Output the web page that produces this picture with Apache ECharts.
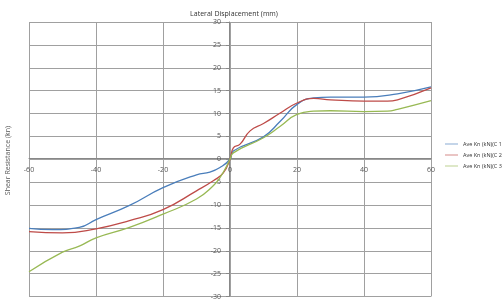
<!DOCTYPE html>
<html>
<head>
<meta charset="utf-8">
<script src="https://cdn.jsdelivr.net/npm/echarts@6/dist/echarts.min.js"></script>
<style>
html, body { margin: 0; padding: 0; background: #fff; }
#chart { width: 504px; height: 300px; }
</style>
</head>
<body>
<div id="chart"></div>
<script>
// 系列名称
const seriesNames = ['Ave Kn (kN)(C 1', 'Ave Kn (kN)(C 2', 'Ave Kn (kN)(C 3'];
const lineColors = ['#4a7ebb', '#be4b48', '#98b954'];

// 位移 (mm) 与剪切抗力 (kn)
const c1X = [-60, -53, -45, -40, -30, -20, -10, -6, -3, 0, 1, 10, 15, 20, 25, 30, 40, 50, 60];
const c1Y = [-15.1, -15.4, -14.9, -13.2, -10.1, -6.2, -3.4, -2.8, -1.8, 0, 1.8, 4.9, 8.3, 12.0, 13.4, 13.6, 13.6, 14.3, 15.8];

const c2X = [-60, -50, -40, -30, -20, -10, -5, -2, 0, 1, 3, 6, 10, 15, 20, 25, 30, 40, 47, 50, 60];
const c2Y = [-15.8, -16.1, -15.2, -13.4, -11.0, -6.9, -4.7, -3.0, 0, 2.5, 3.3, 6.2, 7.8, 10.1, 12.3, 13.3, 13.0, 12.7, 12.7, 13.0, 15.6];

const c3X = [-60, -50, -45, -40, -30, -20, -10, -5, -3, -1, 0, 1, 10, 15, 20, 25, 30, 40, 47, 50, 60];
const c3Y = [-24.6, -20.3, -19.0, -17.2, -14.9, -12.0, -8.7, -5.8, -4.0, -1.5, 0, 1.4, 4.7, 7.2, 9.8, 10.5, 10.6, 10.4, 10.5, 10.9, 12.8];

function pairs(xs, ys) {
    return xs.map(function (x, i) { return [x, ys[i]]; });
}

const allData = [pairs(c1X, c1Y), pairs(c2X, c2Y), pairs(c3X, c3Y)];

let myChart = echarts.init(document.getElementById('chart'));
const labelStyle = { color: '#555', fontSize: 7, fontFamily: 'Open Sans, sans-serif' };

// 画布: 左29 右431 上22 下298 → 零点 (229,160)
let option = {
    animation: false,
    title: {
        text: 'Lateral Displacement (mm)',
        left: 229,
        textAlign: 'center',
        top: 5,
        textStyle: { fontSize: 7, fontWeight: 'normal', color: '#333', fontFamily: 'Open Sans, sans-serif' }
    },
    graphic: [{
        type: 'text',
        left: 4,
        top: 126,
        rotation: Math.PI / 2,
        style: { text: 'Shear Resistance (kn)', fontSize: 7, fill: '#555', fontFamily: 'Open Sans, sans-serif' }
    }],
    legend: {
        orient: 'vertical',
        left: 440,
        top: 136,
        itemWidth: 13,
        itemHeight: 6,
        itemGap: 5,
        icon: 'path://M0,0 L20,0 L20,1 L0,1 Z',
        textStyle: { fontSize: 5.5, color: '#333', fontFamily: 'Open Sans, sans-serif' },
        data: seriesNames
    },
    grid: { left: 29, right: 73, top: 22, bottom: 2 },
    xAxis: {
        type: 'value',
        min: -60,
        max: 60,
        interval: 20,
        position: 'bottom',
        offset: -138,
        axisLine: { onZero: false, lineStyle: { color: '#888' } },
        axisTick: { show: false },
        axisLabel: labelStyle,
        splitLine: { lineStyle: { color: '#a0a0a0' } }
    },
    yAxis: {
        type: 'value',
        min: -30,
        max: 30,
        interval: 5,
        position: 'left',
        offset: -200,
        axisLine: { onZero: false, lineStyle: { color: '#888' } },
        axisTick: { show: true, length: 3, lineStyle: { color: '#888' } },
        axisLabel: labelStyle,
        splitLine: { lineStyle: { color: '#a0a0a0' } }
    },
    series: allData.map(function (d, i) {
        return {
            name: seriesNames[i],
            type: 'line',
            smooth: true,
            symbol: 'none',
            lineStyle: { width: 1.3, color: lineColors[i] },
            itemStyle: { color: lineColors[i] },
            data: d
        };
    })
};

myChart.setOption(option);
</script>
</body>
</html>
